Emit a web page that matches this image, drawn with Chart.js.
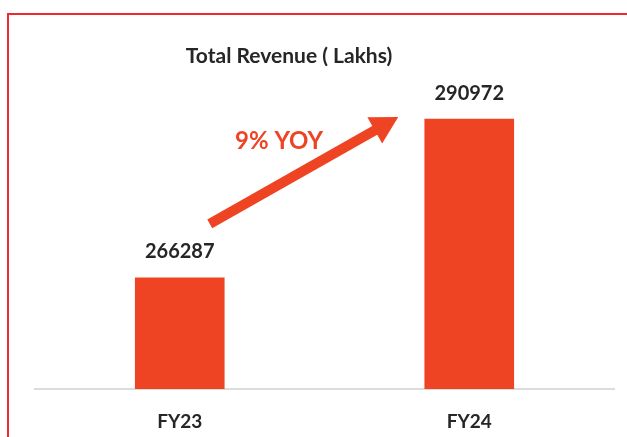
<html>
<head>
    <style>
        body { margin: 0; background: #ffffff; }
        #frame { position: absolute; left: 7px; top: 13px; right: 0; bottom: 0; border-top: 2px solid #ec2a2f; border-left: 2px solid #ec2a2f; }
        #wrap { position: absolute; left: 0; top: 0; width: 627px; height: 437px; }
    </style>
    <script src="https://cdn.jsdelivr.net/npm/chart.js@4"></script>
</head>
<body>
<div id="frame"></div>
<div id="wrap"><canvas id="myChart"></canvas></div>
<script>
    var categories = ["FY23", "FY24"];
    var revenue = [266287, 290972];
    var chartTitle = "Total Revenue ( Lakhs)";
    var growthLabel = "9% YOY";

    var barColor = "#ef4423";
    var textColor = "#262626";
    var fontName = "Lato, 'Open Sans', sans-serif";

    // title, value labels and the growth arrow
    var extras = {
        id: "extras",
        afterDatasetsDraw: function(chart) {
            var ctx = chart.ctx;
            var xs = chart.scales.x;
            var ys = chart.scales.y;
            ctx.save();
            ctx.textAlign = "center";
            ctx.textBaseline = "middle";

            ctx.fillStyle = textColor;
            ctx.font = "bold 21px " + fontName;
            ctx.fillText(chartTitle, 289, 56);

            ctx.font = "bold 20px " + fontName;
            for (var i = 0; i < revenue.length; i++) {
                ctx.fillText(String(revenue[i]), xs.getPixelForValue(i), ys.getPixelForValue(revenue[i]) - 26);
            }

            // arrow from first bar to second bar
            var x0 = xs.getPixelForValue(0) + 30, y0 = ys.getPixelForValue(revenue[0]) - 54;
            var x1 = xs.getPixelForValue(1) - 71, y1 = ys.getPixelForValue(revenue[1]) - 2;
            var ang = Math.atan2(y1 - y0, x1 - x0);
            var head = 27, half = 15;
            var hx = x1 - head * Math.cos(ang), hy = y1 - head * Math.sin(ang);
            ctx.strokeStyle = barColor;
            ctx.fillStyle = barColor;
            ctx.lineWidth = 10;
            ctx.beginPath();
            ctx.moveTo(x0, y0);
            ctx.lineTo(hx + 2 * Math.cos(ang), hy + 2 * Math.sin(ang));
            ctx.stroke();
            ctx.beginPath();
            ctx.moveTo(x1, y1);
            ctx.lineTo(hx + half * Math.sin(ang), hy - half * Math.cos(ang));
            ctx.lineTo(hx - half * Math.sin(ang), hy + half * Math.cos(ang));
            ctx.closePath();
            ctx.fill();

            ctx.font = "bold 24px " + fontName;
            ctx.fillText(growthLabel, 279, 141);
            ctx.restore();
        }
    };

    var chart = new Chart(document.getElementById("myChart"), {
        type: "bar",
        data: {
            labels: categories,
            datasets: [{
                data: revenue,
                backgroundColor: barColor,
                barThickness: 89
            }]
        },
        options: {
            responsive: true,
            maintainAspectRatio: false,
            animation: false,
            layout: { padding: { left: 35, right: 13, top: 61, bottom: 0 } },
            plugins: { legend: { display: false }, tooltip: { enabled: false } },
            scales: {
                x: {
                    grid: { display: false, drawTicks: false },
                    border: { display: true, color: "#dcdcdc", width: 2 },
                    ticks: { color: textColor, padding: 21, font: { family: fontName, size: 19, weight: "bold" } },
                    afterFit: function(scale) { scale.height = 48; }
                },
                y: {
                    display: false,
                    min: 249000,
                    max: 300000
                }
            }
        },
        plugins: [extras]
    });
</script>
</body>
</html>
